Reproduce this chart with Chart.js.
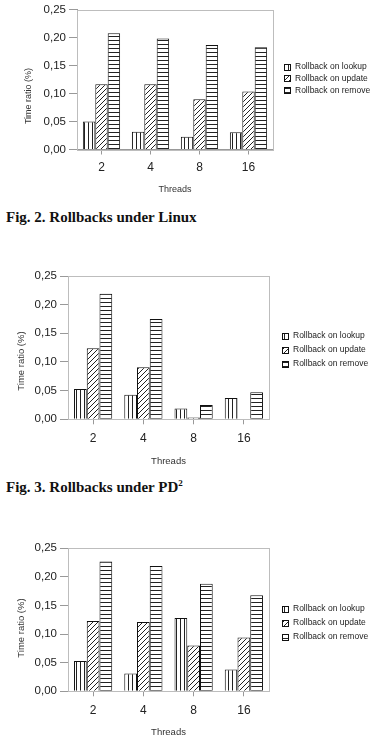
<!DOCTYPE html>
<html>
<head>
<meta charset="utf-8">
<script src="https://cdn.jsdelivr.net/npm/chart.js@4.4.0/dist/chart.umd.min.js"></script>
<style>
body { margin: 0; background: #fff; width: 370px; height: 740px; position: relative; overflow: hidden; }
canvas { position: absolute; left: 0; }
.cap { position: absolute; left: 6px; font: bold 15px "Liberation Serif", "Times New Roman", serif; color: #111; line-height: 15px; white-space: nowrap; }
.cap sup { font-size: 9px; vertical-align: 6px; line-height: 0; }
</style>
</head>
<body>
<canvas id="c1" width="370" height="200" style="top:0px"></canvas>
<div class="cap" style="top:210px">Fig. 2. Rollbacks under Linux</div>
<canvas id="c2" width="370" height="210" style="top:262px"></canvas>
<div class="cap" style="top:480px">Fig. 3. Rollbacks under PD<sup>2</sup></div>
<canvas id="c3" width="370" height="210" style="top:530px"></canvas>

<script>
// data
const threads = ['2', '4', '8', '16'];
const seriesNames = ['Rollback on lookup', 'Rollback on update', 'Rollback on remove'];
const yMin = 0, yMax = 0.25, yStep = 0.05;

const linuxLookup = [0.050, 0.032, 0.023, 0.031];
const linuxUpdate = [0.117, 0.117, 0.090, 0.104];
const linuxRemove = [0.208, 0.199, 0.187, 0.183];

const pd2Lookup = [0.053, 0.043, 0.019, 0.037];
const pd2Update = [0.124, 0.091, 0.003, 0.001];
const pd2Remove = [0.219, 0.175, 0.025, 0.047];

const fig4Lookup = [0.053, 0.031, 0.128, 0.038];
const fig4Update = [0.123, 0.121, 0.080, 0.094];
const fig4Remove = [0.227, 0.219, 0.188, 0.168];

Chart.defaults.font.family = '"Liberation Sans", Arial, sans-serif';
Chart.defaults.color = '#222';

function makePattern(kind) {
    const size = kind === 'd' ? 5 : 4;
    const c = document.createElement('canvas');
    c.width = size; c.height = size;
    const g = c.getContext('2d');
    g.fillStyle = '#fff';
    g.fillRect(0, 0, size, size);
    g.fillStyle = '#222';
    if (kind === 'v') g.fillRect(0, 0, 1, size);
    else if (kind === 'h') g.fillRect(0, 0, size, 1);
    else for (let i = 0; i < size; i++) g.fillRect(i, size - 1 - i, 1, 1);
    return g.createPattern(c, 'repeat');
}

const fills = [makePattern('v'), makePattern('d'), makePattern('h')];

// light frame round the plot area
const framePlugin = {
    id: 'frame',
    beforeDatasetsDraw(chart) {
        const a = chart.chartArea, ctx = chart.ctx;
        ctx.save();
        ctx.strokeStyle = '#bdbdbd';
        ctx.lineWidth = 1;
        ctx.strokeRect(Math.round(a.left) + 0.5, Math.round(a.top) + 0.5,
            Math.round(a.right - a.left), Math.round(a.bottom - a.top));
        ctx.restore();
    }
};

// y title and legend placed like the original
const sidePlugin = {
    id: 'side',
    afterDraw(chart, args, opts) {
        const ctx = chart.ctx;
        ctx.save();
        ctx.fillStyle = '#333';
        ctx.font = opts.titleSize + 'px "Liberation Sans", Arial, sans-serif';
        ctx.textAlign = 'center';
        ctx.textBaseline = 'middle';
        ctx.translate(opts.titleX, opts.titleY);
        ctx.rotate(-Math.PI / 2);
        ctx.fillText('Time ratio (%)', 0, 0);
        ctx.restore();

        ctx.save();
        ctx.font = opts.legendSize + 'px "Liberation Sans", Arial, sans-serif';
        ctx.textAlign = 'left';
        ctx.textBaseline = 'middle';
        chart.data.datasets.forEach((ds, i) => {
            const y = opts.legendY + i * opts.legendGap;
            const b = opts.box;
            ctx.fillStyle = ds.backgroundColor;
            ctx.fillRect(opts.legendX, Math.round(y - b / 2), b, b);
            ctx.strokeStyle = '#111';
            ctx.lineWidth = 1;
            ctx.strokeRect(opts.legendX + 0.5, Math.round(y - b / 2) + 0.5, b - 1, b - 1);
            ctx.fillStyle = '#222';
            ctx.fillText(ds.label, opts.legendX + b + 4, y);
        });
        ctx.restore();
    }
};

function makeChart(id, lookup, update, remove, s) {
    const canvas = document.getElementById(id);
    const H = canvas.height;
    const values = [lookup, update, remove];
    new Chart(canvas.getContext('2d'), {
        type: 'bar',
        data: {
            labels: threads,
            datasets: seriesNames.map((name, i) => ({
                label: name,
                data: values[i],
                backgroundColor: fills[i],
                borderColor: '#111',
                borderWidth: 1,
                categoryPercentage: 0.76,
                barPercentage: 1.0
            }))
        },
        options: {
            responsive: false,
            animation: false,
            layout: { padding: { top: s.top, right: 370 - s.right, left: 0, bottom: 0 } },
            plugins: {
                legend: { display: false },
                tooltip: { enabled: false },
                side: s.side
            },
            scales: {
                x: {
                    afterFit: (scale) => { scale.height = H - s.bottom; },
                    grid: { display: true, drawOnChartArea: false, offset: false, tickLength: 5, color: '#999' },
                    border: { color: '#999' },
                    ticks: { font: { size: 12 }, padding: s.xPad, color: '#222' },
                    title: {
                        display: true, text: 'Threads', color: '#333',
                        font: { size: s.side.titleSize },
                        padding: { top: 0, bottom: s.threadsPad }
                    }
                },
                y: {
                    min: yMin, max: yMax,
                    afterFit: (scale) => { scale.width = s.left; },
                    grid: { display: true, drawOnChartArea: false, tickLength: 8, color: '#999' },
                    border: { color: '#999' },
                    ticks: {
                        stepSize: yStep, padding: 3, color: '#222',
                        font: { size: 11.5 },
                        callback: (v) => v.toFixed(2).replace('.', ',')
                    }
                }
            }
        },
        plugins: [framePlugin, sidePlugin]
    });
}

makeChart('c1', linuxLookup, linuxUpdate, linuxRemove, {
    left: 77, top: 9, right: 273, bottom: 149.5, xPad: 6, threadsPad: 5,
    side: { titleX: 29, titleY: 96, titleSize: 9, legendX: 284, legendY: 67, legendGap: 11.7, legendSize: 8.5, box: 7 }
});
makeChart('c2', pd2Lookup, pd2Update, pd2Remove, {
    left: 68, top: 14, right: 269, bottom: 157.3, xPad: 7, threadsPad: 5,
    side: { titleX: 21, titleY: 99, titleSize: 9.5, legendX: 282, legendY: 74, legendGap: 14, legendSize: 8.5, box: 7 }
});
makeChart('c3', fig4Lookup, fig4Update, fig4Remove, {
    left: 68, top: 18.3, right: 269, bottom: 161.3, xPad: 7, threadsPad: 1.5,
    side: { titleX: 21, titleY: 98, titleSize: 9.5, legendX: 282, legendY: 79, legendGap: 14, legendSize: 8.5, box: 7 }
});
</script>
</body>
</html>
